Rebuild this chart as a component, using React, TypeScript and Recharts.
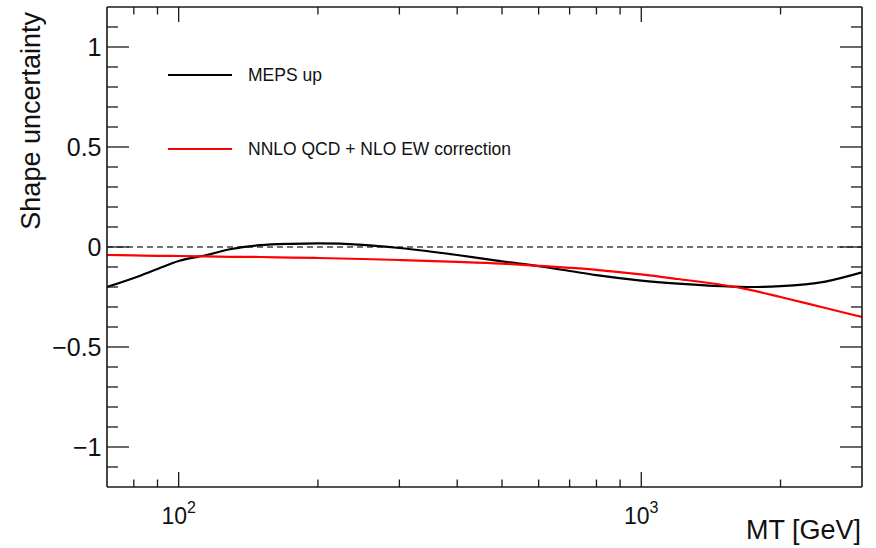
import { LineChart, Line, XAxis, YAxis, ReferenceLine, Legend } from 'recharts'

// MT [GeV] sample points
const mt = [70, 80, 90, 100, 115, 130, 150, 175, 200, 250, 300, 400, 500, 600, 700, 800, 1000, 1200, 1500, 1700, 2000, 2500, 3000]
const mepsUp = [-0.2, -0.155, -0.11, -0.07, -0.04, -0.01, 0.009, 0.016, 0.018, 0.011, -0.005, -0.04, -0.072, -0.096, -0.12, -0.141, -0.168, -0.183, -0.196, -0.2, -0.196, -0.173, -0.127]
const nnloEw = [-0.04, -0.042, -0.044, -0.045, -0.047, -0.049, -0.05, -0.053, -0.055, -0.06, -0.065, -0.074, -0.083, -0.094, -0.104, -0.114, -0.137, -0.16, -0.19, -0.212, -0.25, -0.305, -0.35]

const xTicks = [80, 90, 100, 200, 300, 400, 500, 600, 700, 800, 900, 1000, 2000]
const yTicks = [-1.1, -1, -0.9, -0.8, -0.7, -0.6, -0.5, -0.4, -0.3, -0.2, -0.1, 0, 0.1, 0.2, 0.3, 0.4, 0.5, 0.6, 0.7, 0.8, 0.9, 1, 1.1]

const series = [
  { key: 'meps', name: 'MEPS up', color: '#000000' },
  { key: 'nnlo', name: 'NNLO QCD + NLO EW correction', color: '#ff0000' },
]

const data = mt.map((m, i) => ({ mt: m, meps: mepsUp[i], nnlo: nnloEw[i] }))

const AX = '#1a1a1a'
const isMajorY = (v: number) => Math.abs(v * 2 - Math.round(v * 2)) < 1e-6

function XTick(props: any) {
  const { x, y, payload, top } = props
  const v = payload.value
  const major = v === 100 || v === 1000
  const len = major ? 15 : 7.5
  return (
    <g>
      <line x1={x} x2={x} y1={y} y2={top ? y + len : y - len} stroke={AX} strokeWidth={1.3} />
      {!top && major && (
        <text x={x} y={y + 37} textAnchor="middle" fontSize={23} fill="#111">
          10<tspan dy={-11} fontSize={16}>{v === 100 ? '2' : '3'}</tspan>
        </text>
      )}
    </g>
  )
}

function YTick(props: any) {
  const { x, y, payload, right } = props
  const v = Math.round(payload.value * 10) / 10
  const major = isMajorY(v)
  const len = major ? 22 : 11
  const label = v === 0 ? '0' : v < 0 ? '\u2212' + Math.abs(v) : String(v)
  return (
    <g>
      <line x1={x} x2={right ? x - len : x + len} y1={y} y2={y} stroke={AX} strokeWidth={1.3} />
      {!right && major && (
        <text x={x - 5.5} y={y + 9.3} textAnchor="end" fontSize={25} fill="#111">
          {label}
        </text>
      )}
    </g>
  )
}

function LegendBox() {
  return (
    <div style={{ position: 'relative', width: 420, height: 100 }}>
      {series.map((s, i) => (
        <div
          key={s.key}
          style={{ position: 'absolute', left: 0, top: i * 74, height: 20, display: 'flex', alignItems: 'center', whiteSpace: 'nowrap' }}
        >
          <svg width={64} height={4}>
            <line x1={0} x2={64} y1={2} y2={2} stroke={s.color} strokeWidth={2.2} />
          </svg>
          <span style={{ marginLeft: 16, fontSize: 17.5, color: '#111' }}>{s.name}</span>
        </div>
      ))}
    </div>
  )
}

export default function App() {
  return (
    <div style={{ position: 'absolute', left: 0, top: 0, width: 876, height: 548, background: '#fff', fontFamily: '"Liberation Sans", Arial, sans-serif' }}>
      <LineChart width={876} height={548} data={data} margin={{ top: 6, right: 13, bottom: 60, left: 106 }}>
        <XAxis
          xAxisId="b"
          dataKey="mt"
          type="number"
          scale="log"
          domain={[70, 3000]}
          allowDataOverflow
          ticks={xTicks}
          interval={0}
          height={1}
          tickSize={0}
          tickMargin={0}
          tickLine={false}
          axisLine={{ stroke: AX, strokeWidth: 1.6 }}
          tick={<XTick />}
          label={{
            content: () => (
              <text x={861} y={538.5} textAnchor="end" fontSize={27} fill="#111">
                MT [GeV]
              </text>
            ),
          }}
        />
        <XAxis
          xAxisId="t"
          orientation="top"
          dataKey="mt"
          type="number"
          scale="log"
          domain={[70, 3000]}
          allowDataOverflow
          ticks={xTicks}
          interval={0}
          height={1}
          tickSize={0}
          tickMargin={0}
          tickLine={false}
          axisLine={{ stroke: AX, strokeWidth: 1.6 }}
          tick={<XTick top />}
        />
        <YAxis
          yAxisId="l"
          type="number"
          domain={[-1.2, 1.2]}
          allowDataOverflow
          ticks={yTicks}
          interval={0}
          width={1}
          tickSize={0}
          tickMargin={0}
          tickLine={false}
          axisLine={{ stroke: AX, strokeWidth: 1.6 }}
          tick={<YTick />}
          label={{
            content: () => (
              <text transform="translate(39.5,12) rotate(-90)" textAnchor="end" fontSize={27} fill="#111">
                Shape uncertainty
              </text>
            ),
          }}
        />
        <YAxis
          yAxisId="r"
          orientation="right"
          type="number"
          domain={[-1.2, 1.2]}
          allowDataOverflow
          ticks={yTicks}
          interval={0}
          width={1}
          tickSize={0}
          tickMargin={0}
          tickLine={false}
          axisLine={{ stroke: AX, strokeWidth: 1.6 }}
          tick={<YTick right />}
        />
        <ReferenceLine xAxisId="b" yAxisId="l" y={0} stroke="#444" strokeDasharray="6 4" strokeWidth={1.3} />
        <Legend
          layout="vertical"
          align="center"
          verticalAlign="middle"
          wrapperStyle={{ left: 168, top: 65, width: 420 }}
          content={() => <LegendBox />}
        />
        {series.map((s) => (
          <Line
            key={s.key}
            xAxisId="b"
            yAxisId="l"
            dataKey={s.key}
            type="monotone"
            stroke={s.color}
            strokeWidth={2.2}
            dot={false}
            isAnimationActive={false}
          />
        ))}
      </LineChart>
    </div>
  )
}
